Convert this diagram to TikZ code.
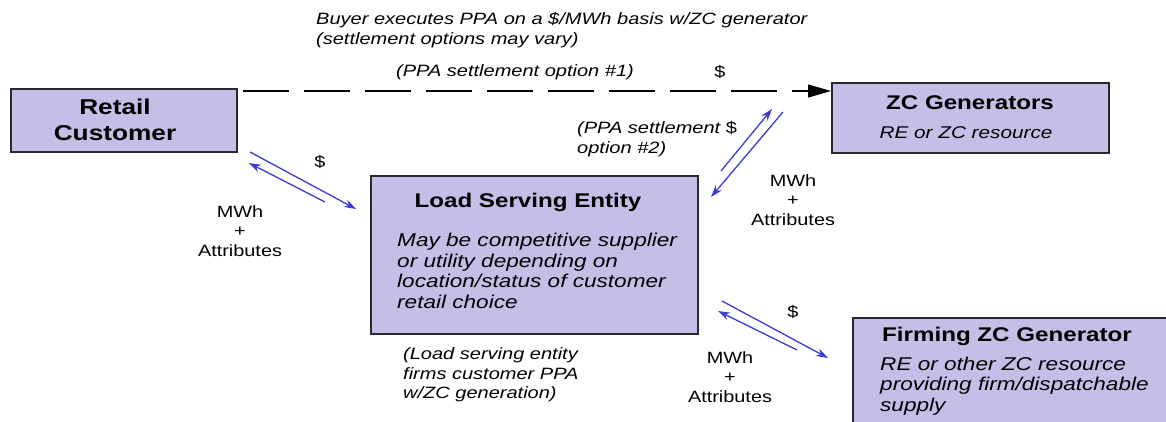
\documentclass[tikz,border=0pt]{standalone}
\usepackage{fontspec}
\setmainfont{Liberation Sans}[FakeStretch=1.22]
\usetikzlibrary{arrows.meta}
\definecolor{boxfill}{RGB}{198,190,230}
\definecolor{boxline}{RGB}{40,40,48}
\definecolor{flow}{RGB}{60,60,210}
\tikzset{
  x=1pt, y=-1pt,
  box/.style={draw=boxline, line width=1.6pt, fill=boxfill, rectangle, anchor=north west, inner sep=0pt},
  ttl/.style={font=\bfseries\fontsize{19.8}{24}\selectfont, inner sep=0pt},
  body/.style={font=\itshape\fontsize{18.5}{20.6}\selectfont, align=left, inner sep=0pt},
  lbl/.style={font=\fontsize{16.3}{19.3}\selectfont, align=center, inner sep=0pt},
  note/.style={font=\itshape\fontsize{16.4}{19.3}\selectfont, align=left, inner sep=0pt},
  flowarrow/.style={draw=flow, line width=1.3pt, -{Stealth[length=12pt,width=8pt]}},
}
\begin{document}
\begin{tikzpicture}
\useasboundingbox (0,0) rectangle (1166,421);
\clip (0,0) rectangle (1166,421);
% boxes
\node[box, minimum width=226pt, minimum height=63pt] (rc) at (10,88) {};
\node[box, minimum width=277pt, minimum height=70pt] (zc) at (831,82) {};
\node[box, minimum width=327pt, minimum height=158pt] (lse) at (370,175) {};
\node[box, minimum width=330pt, minimum height=140pt] (fz) at (852,317) {};
% box texts
\node[ttl, font=\bfseries\fontsize{21.5}{25.5}\selectfont, align=center] (rct) at (115,120) {Retail\\Customer};
\node[ttl] (zct) at (970,103) {ZC Generators};
\node[body, font=\itshape\fontsize{17}{20}\selectfont] (zcb) at (966,133) {RE or ZC resource};
\node[ttl] (lset) at (528,202) {Load Serving Entity};
\node[body, anchor=west] (lseb) at (397,271) {May be competitive supplier\\or utility depending on\\location/status of customer\\retail choice};
\node[ttl] (fzt) at (1007,336) {Firming ZC Generator};
\node[body, anchor=west] (fzb) at (880,386) {RE or other ZC resource\\providing firm/dispatchable\\supply};
% notes
\node[note, anchor=west] (buy) at (316,30) {Buyer executes PPA on a \$/MWh basis w/ZC generator\\(settlement options may vary)};
\node[note] (opt1) at (515,72) {(PPA settlement option \#1)};
\node[lbl] (d1) at (720,72) {\$};
\node[note, anchor=west] (opt2) at (577,139) {(PPA settlement {\upshape\$}\\option \#2)};
\node[note, anchor=west] (lsen) at (403,375) {(Load serving entity\\firms customer PPA\\w/ZC generation)};
% flow labels
\node[lbl] (d2) at (320,162) {\$};
\node[lbl] (m1) at (240,231) {MWh\\+\\Attributes};
\node[lbl] (m2) at (793,200) {MWh\\+\\Attributes};
\node[lbl] (d3) at (793,312) {\$};
\node[lbl] (m3) at (730,377) {MWh\\+\\Attributes};
% dashed PPA line
\coordinate (ds) at (243,91);
\draw[black, line width=1.2pt, dash pattern=on 46pt off 15pt, -{Triangle[length=23pt,width=13pt]}] (ds) -- (ds -| zc.west);
% blue flow arrows
\coordinate (a1) at (250,152); \coordinate (a2) at (356,209);
\coordinate (b1) at (325,202); \coordinate (b2) at (249,163);
\coordinate (c1) at (721,171); \coordinate (c2) at (772,109);
\coordinate (e1) at (783,112); \coordinate (e2) at (711,197);
\coordinate (f1) at (722,301); \coordinate (f2) at (828,358);
\coordinate (g1) at (797,350); \coordinate (g2) at (718,311);
\draw[flowarrow] (a1) -- (a2);
\draw[flowarrow] (b1) -- (b2);
\draw[flowarrow] (c1) -- (c2);
\draw[flowarrow] (e1) -- (e2);
\draw[flowarrow] (f1) -- (f2);
\draw[flowarrow] (g1) -- (g2);
\end{tikzpicture}
\end{document}
